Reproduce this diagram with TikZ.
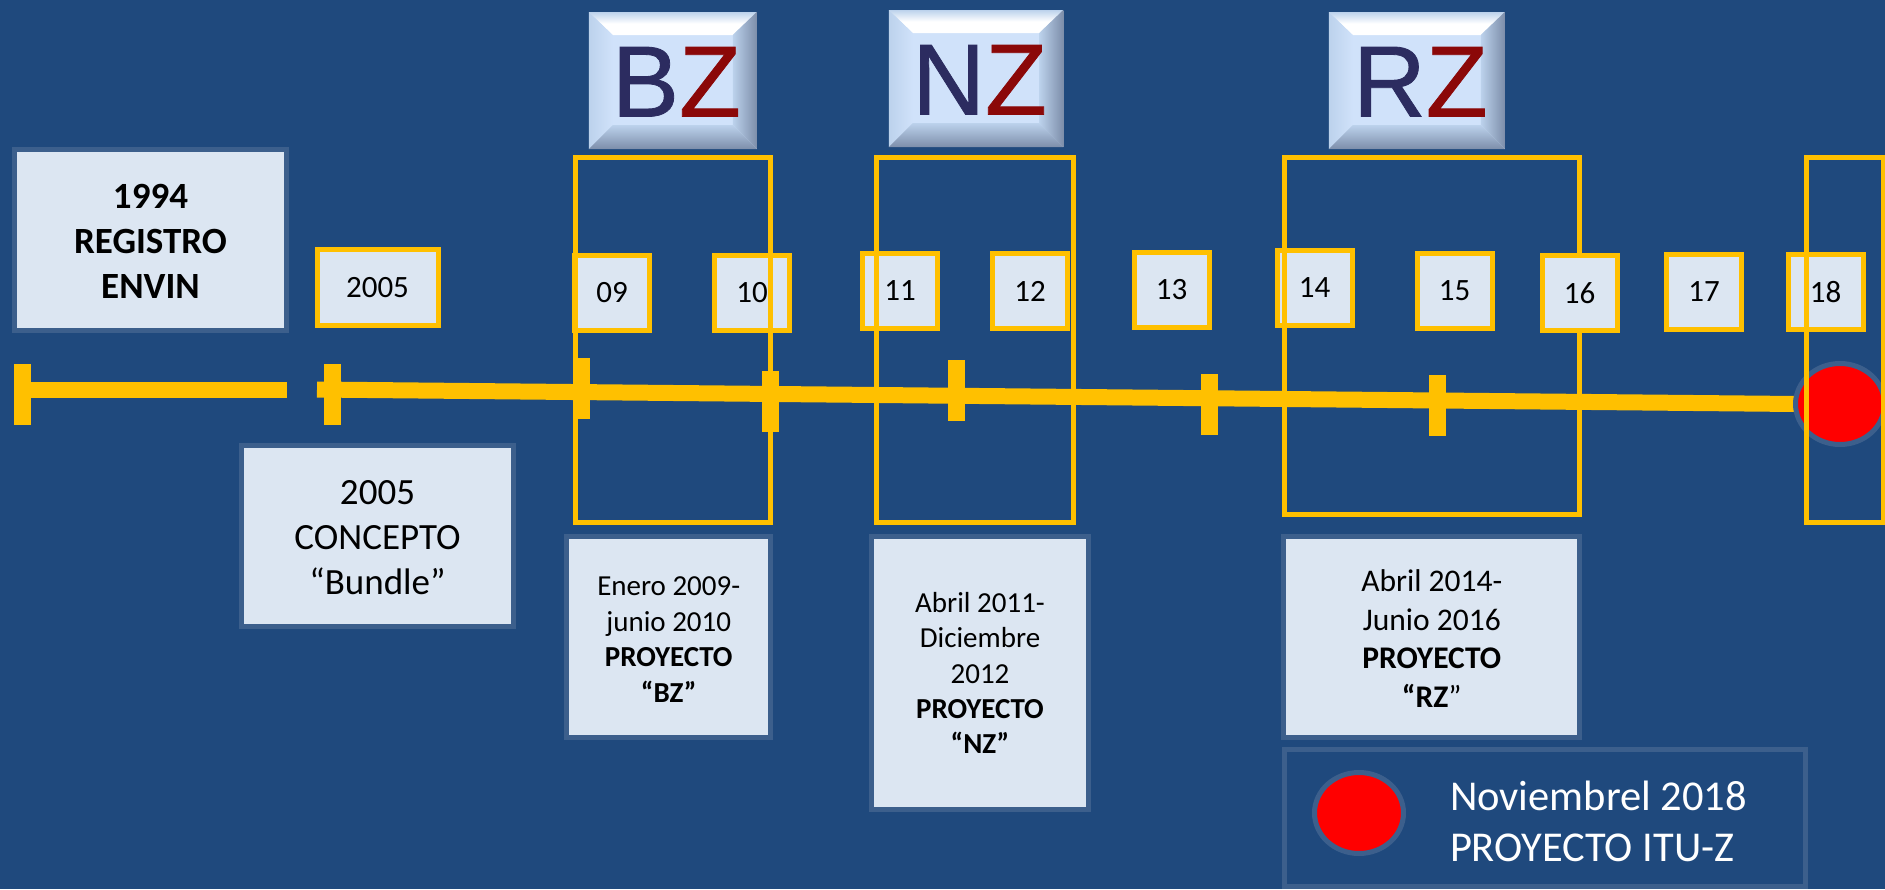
\documentclass[tikz,border=0pt]{standalone}
\usepackage{fontspec}
\setmainfont{Carlito}
\newfontfamily\btnfont[FakeBold=0.8]{Liberation Sans}
\usepackage{tikz}
\usetikzlibrary{positioning,shapes.geometric}
\definecolor{bgblue}{RGB}{31,73,125}
\definecolor{gold}{RGB}{255,192,0}
\definecolor{paleblue}{RGB}{220,230,242}
\definecolor{rimblue}{RGB}{60,95,140}
\definecolor{faceblue}{RGB}{208,226,250}
\definecolor{btnrim}{RGB}{188,210,236}
\definecolor{btnshade}{RGB}{125,142,170}
\definecolor{btnnavy}{RGB}{44,44,96}
\definecolor{btnred}{RGB}{139,8,8}
\newcommand{\fsize}[2]{\fontsize{#1}{#2}\selectfont}
\newcommand{\topgap}[1]{\rule{0pt}{#1pt}}
\newcommand{\btntext}[1]{\hspace*{7pt}\textcolor{btnnavy}{#1}\textcolor{btnred}{Z}}

\begin{document}
\begin{tikzpicture}[x=1pt,y=-1pt,
  every node/.style={inner sep=0pt,outer sep=0pt,align=center,text=black},
  infobox/.style={draw=rimblue,line width=5pt,fill=paleblue,font=\fsize{37}{45}},
  descbox/.style={draw=rimblue,line width=5pt,fill=paleblue,font=\fsize{29}{35.4}},
  yearbox/.style={draw=gold,line width=5pt,fill=paleblue,minimum width=75pt,minimum height=75pt,
                  font=\fsize{31}{37}},
  frm/.style={draw=gold,line width=5pt},
  tick/.style={fill=gold,minimum width=17pt,minimum height=61pt},
  axisline/.style={draw=gold,line width=16pt},
  reddot/.style={ellipse,draw=rimblue,line width=5pt,fill=red,minimum width=89pt,minimum height=81pt},
  % the bevel goes in a path picture so that the letters stay above it
  btn/.style={fill=faceblue,minimum height=137pt,font=\btnfont\fsize{101}{101},
    text height=72pt,text depth=0pt,
    path picture={
      \coordinate (nw) at (path picture bounding box.north west);
      \coordinate (ne) at (path picture bounding box.north east);
      \coordinate (sw) at (path picture bounding box.south west);
      \coordinate (se) at (path picture bounding box.south east);
      \shade[top color=btnrim,bottom color=white,middle color=white] (nw) -- (ne) -- ([shift={(-24pt,-23pt)}]ne) -- ([shift={(24pt,-23pt)}]nw) -- cycle;
      \shade[left color=btnrim,right color=faceblue] (nw) -- ([shift={(24pt,-23pt)}]nw) -- ([shift={(24pt,24pt)}]sw) -- (sw) -- cycle;
      \shade[left color=btnrim,right color=btnshade] (ne) -- ([shift={(-24pt,-23pt)}]ne) -- ([shift={(-24pt,24pt)}]se) -- (se) -- cycle;
      \shade[top color=btnrim,bottom color=btnshade] (sw) -- ([shift={(24pt,24pt)}]sw) -- ([shift={(-24pt,24pt)}]se) -- (se) -- cycle;
    }}]

\useasboundingbox (0,0) rectangle (1885,889);
\fill[bgblue] (0,0) rectangle (1885,889);

\node[infobox,minimum width=272pt,minimum height=181pt] (reg) at (150.5,240) {\topgap{26}\textbf{1994}\\\textbf{REGISTRO}\\\textbf{ENVIN}};
\node[yearbox,minimum width=121pt,minimum height=76pt] (y05) at (377.5,287.5) {2005};
\node[infobox,minimum width=272pt,minimum height=181pt] (bun) at (377.5,536) {\topgap{28}2005\\CONCEPTO\\“Bundle”};

% the axis, broken once after the first stretch
\coordinate (ax94) at (31,389.5);
\coordinate (ax94e) at (287,389.5);
\coordinate (ax05) at (317,389.5);
\coordinate (axend) at (1796,404);
\draw[axisline] (ax94) -- (ax94e);
\draw[axisline] (ax05) -- (axend);
\foreach \nm/\x/\y in {94/22.5/394.5,05/332.5/394.5,09/581/388,10/770.5/401,11/956/390.5,13/1209/404.5,15/1437.5/405.5}
  \node[tick] (t\nm) at (\x,\y) {};

\node[reddot] (itu) at (1840,404) {};

\node[yearbox] (y09) at (612,293) {09};
\foreach \cur/\prev/\gap/\dy in {10/09/65/0,11/10/73/2,12/11/55/0,13/12/66.5/1,14/13/68/2,15/14/65/-3}
  \node[yearbox,right=\gap pt of y\prev,yshift=\dy pt] (y\cur) {\cur};

\node[frm,minimum width=195.5pt,minimum height=364.5pt] (fbz) at (672.75,339.75) {};
\node[frm,minimum width=197pt,minimum height=364.5pt] (fnz) at (975,339.75) {};
\node[frm,minimum width=294.5pt,minimum height=356.5pt] (frz) at (1431.75,335.75) {};

% 16 lies over the RZ frame, the others under theirs
\foreach \cur/\prev/\gap/\dy in {16/15/50/-2,17/16/49.5/1,18/17/46.5/0}
  \node[yearbox,right=\gap pt of y\prev,yshift=\dy pt] (y\cur) {\cur};
\node[frm,minimum width=77pt,minimum height=364.5pt] (fit) at (1844.5,339.75) {};

\node[btn,minimum width=168pt,above=8.5pt of fbz] (bbz) {\btntext{B}};
\node[btn,minimum width=174.5pt,above=10.5pt of fnz,xshift=1pt] (bnz) {\btntext{N}};
\node[btn,minimum width=176pt,above=8.5pt of frz,xshift=-15pt] (brz) {\btntext{R}};

\node[descbox,minimum width=204pt,minimum height=201pt,below=14.5pt of fbz,xshift=-4pt] (dbz)
  {\topgap{24}Enero 2009-\\junio 2010\\\textbf{PROYECTO}\\\textbf{“BZ”}};
\node[descbox,minimum width=217pt,minimum height=273pt,below=14.5pt of fnz,xshift=5pt] (dnz)
  {Abril 2011-\\Diciembre\\2012\\\textbf{PROYECTO}\\\textbf{“NZ”}};
\node[descbox,minimum width=296pt,minimum height=201pt,below=22.5pt of frz,font=\fsize{31.5}{38.4}] (drz)
  {\topgap{25}Abril 2014-\\Junio 2016\\\textbf{PROYECTO}\\\textbf{“RZ}”};

\node[draw=rimblue,line width=5pt,minimum width=521pt,minimum height=137pt] (leg) at (1545,818) {};
\node[reddot] (legdot) at (1359,813) {};
\node[anchor=west,align=left,text=white,font=\fsize{42.5}{51}] (legtxt) at (1450,821) {Noviembrel 2018\\PROYECTO ITU-Z};
\end{tikzpicture}
\end{document}
